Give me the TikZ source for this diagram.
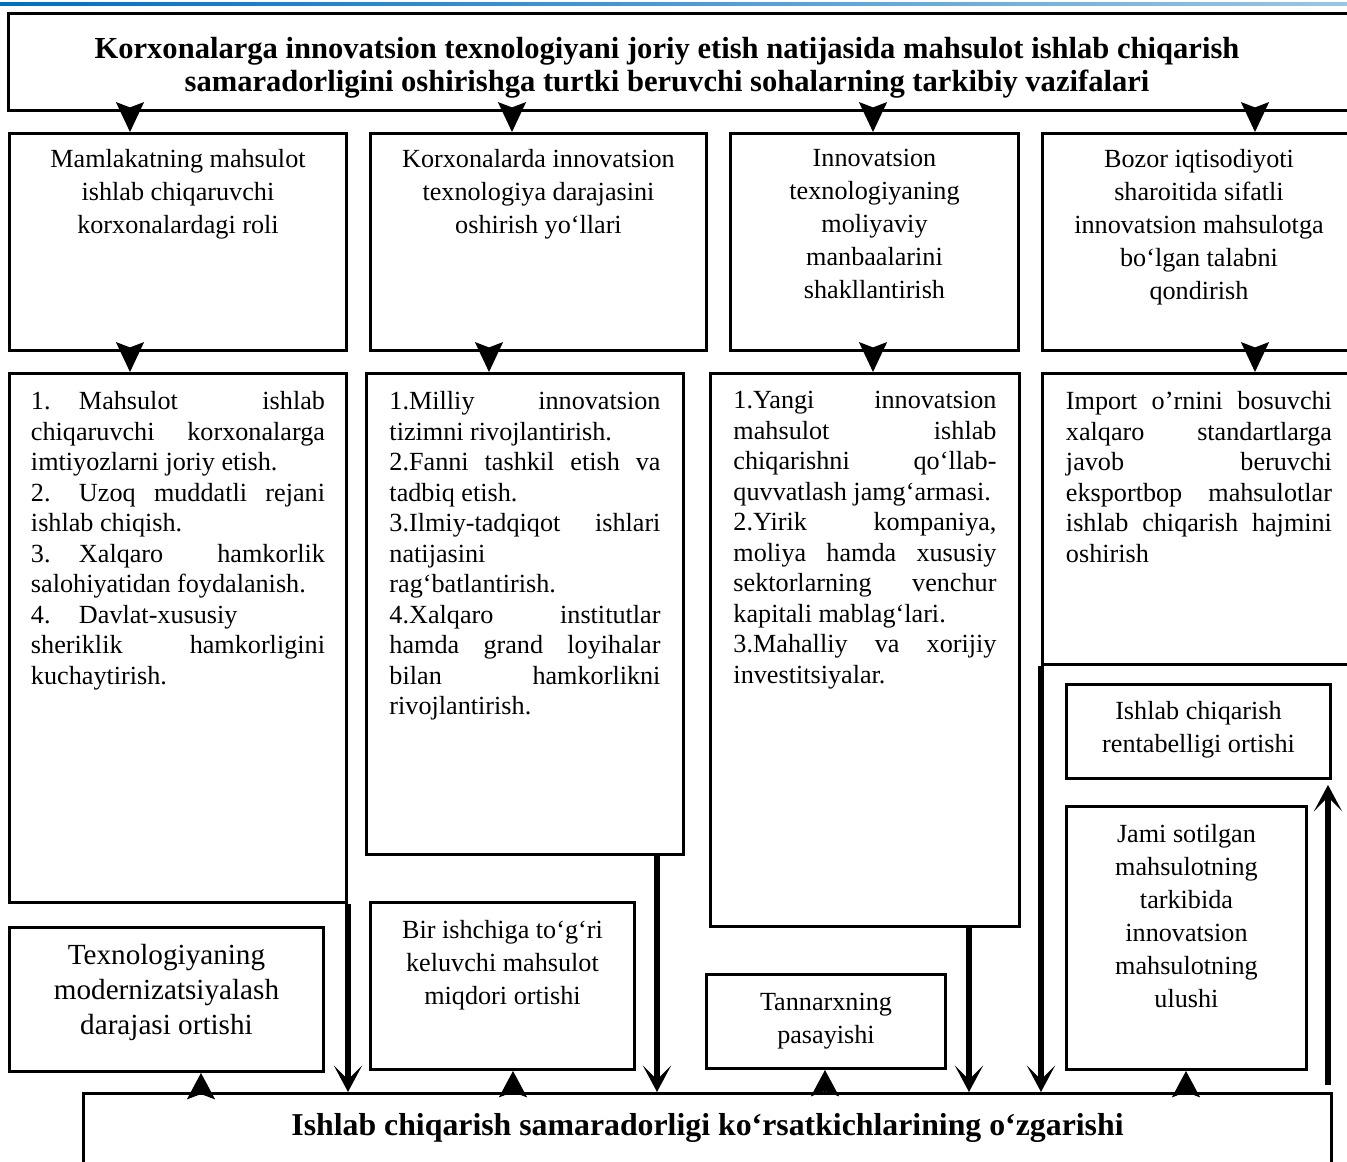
\documentclass[tikz,border=0pt]{standalone}
\usepackage{fontspec}
\setmainfont{Liberation Serif}
\usetikzlibrary{arrows.meta}
\definecolor{hdrblue}{RGB}{0,112,192}
\newlength{\pxd}\setlength{\pxd}{0.02cm}
\newcommand{\topbox}[3]{\parbox[t][#1\pxd][t]{#2\pxd}{#3}}
\newcommand{\numtab}[1]{\makebox[48\pxd][l]{#1}}
\tolerance=10000 \hbadness=10000 \hyphenpenalty=10000
\tikzset{
  panel/.style={draw, line width=1.7pt, inner sep=0pt, anchor=north west},
  headfont/.style={font=\fontsize{17.4}{18.8}\selectfont\bfseries},
  resfont/.style={font=\fontsize{18.1}{20}\selectfont\bfseries},
  cfont/.style={font=\fontsize{14.9}{18.8}\selectfont},
  jfont/.style={font=\fontsize{14.9}{17.35}\selectfont},
  bigfont/.style={font=\fontsize{16.6}{19.9}\selectfont},
  headdown/.style={-{Stealth[length=17pt,width=16pt,inset=3pt]}, line width=0.6pt},
  headup/.style={-{Stealth[length=15pt,width=16pt,inset=3pt]}, line width=0.6pt},
  feed/.style={-{Stealth[length=15pt,width=16pt,inset=8pt]}, line width=3pt},
}
\begin{document}
\begin{tikzpicture}[x=0.02cm, y=-0.02cm]
  \useasboundingbox (0,0) rectangle (1347,1162);
  \clip (0,0) rectangle (1347,1162);
  \shade[left color=hdrblue, right color=hdrblue!40] (0,2.5) rectangle (1347,5.5);

  %% title
  \node[panel, headfont, minimum width=1347\pxd] (title) at (7,12) {\topbox{97}{1347}{\centering\rightskip=30\pxd plus 1fil\vspace*{24\pxd}Korxonalarga innovatsion texnologiyani joriy etish natijasida mahsulot ishlab chiqarish\\ samaradorligini oshirishga turtki beruvchi sohalarning tarkibiy vazifalari}};

  %% second row: directions
  \node[panel, cfont, minimum width=337\pxd] (mA) at (8,132) {\topbox{217}{337}{\centering\vspace*{16\pxd}Mamlakatning mahsulot\\ ishlab chiqaruvchi\\ korxonalardagi roli}};
  \node[panel, cfont, minimum width=336\pxd] (mB) at (369,132) {\topbox{217}{336}{\centering\vspace*{16\pxd}Korxonalarda innovatsion\\ texnologiya darajasini\\ oshirish yo‘llari}};
  \node[panel, cfont, minimum width=288\pxd] (mC) at (729,132) {\topbox{217}{288}{\centering\vspace*{16\pxd}Innovatsion\\ texnologiyaning\\ moliyaviy\\ manbaalarini\\ shakllantirish}};
  \node[panel, cfont, minimum width=313\pxd] (mD) at (1041,132) {\topbox{217}{313}{\centering\vspace*{16\pxd}Bozor iqtisodiyoti\\ sharoitida sifatli\\ innovatsion mahsulotga\\ bo‘lgan talabni\\ qondirish}};

  %% third row: measures
  \node[panel, jfont, minimum width=337\pxd] (lA) at (8,372) {\topbox{529}{294}{\vspace*{18\pxd}\numtab{1.}Mahsulot ishlab\linebreak chiqaruvchi korxonalarga\linebreak imtiyozlarni joriy etish.\par \numtab{2.}Uzoq muddatli rejani\linebreak ishlab chiqish.\par \numtab{3.}Xalqaro hamkorlik\linebreak salohiyatidan foydalanish.\par \numtab{4.}Davlat-xususiy\\ sheriklik hamkorligini\linebreak kuchaytirish.}};
  \node[panel, jfont, minimum width=317\pxd] (lB) at (365,372) {\topbox{481}{271}{\vspace*{18\pxd}1.Milliy innovatsion\linebreak tizimni rivojlantirish.\par 2.Fanni tashkil etish va\linebreak tadbiq etish.\par 3.Ilmiy-tadqiqot ishlari\linebreak natijasini\linebreak rag‘batlantirish.\par 4.Xalqaro institutlar\linebreak hamda grand loyihalar\linebreak bilan hamkorlikni\linebreak rivojlantirish.}};
  \node[panel, jfont, minimum width=309\pxd] (lC) at (709,372) {\topbox{553}{263}{\vspace*{18\pxd}1.Yangi innovatsion\linebreak mahsulot ishlab\linebreak chiqarishni qo‘llab-\linebreak quvvatlash jamg‘armasi.\par 2.Yirik kompaniya,\linebreak moliya hamda xususiy\linebreak sektorlarning venchur\linebreak kapitali mablag‘lari.\par 3.Mahalliy va xorijiy\linebreak investitsiyalar.}};
  \node[panel, jfont, minimum width=313\pxd] (lD) at (1041,372) {\topbox{291}{266}{\vspace*{18\pxd}Import o’rnini bosuvchi\linebreak xalqaro standartlarga\linebreak javob beruvchi\linebreak eksportbop mahsulotlar\linebreak ishlab chiqarish hajmini\linebreak oshirish}};

  %% indicators
  \node[panel, bigfont, minimum width=314\pxd] (tech) at (8,926) {\topbox{144}{314}{\centering\vspace*{17\pxd}Texnologiyaning\\ modernizatsiyalash\\ darajasi ortishi}};
  \node[panel, cfont, minimum width=264\pxd] (worker) at (369,901) {\topbox{167}{264}{\centering\vspace*{18\pxd}Bir ishchiga to‘g‘ri\\ keluvchi mahsulot\\ miqdori ortishi}};
  \node[panel, cfont, minimum width=239\pxd] (cost) at (705,973) {\topbox{94}{239}{\centering\vspace*{19\pxd}Tannarxning\\ pasayishi}};
  \node[panel, cfont, minimum width=264\pxd] (profit) at (1065,683) {\topbox{94}{264}{\centering\vspace*{17\pxd}Ishlab chiqarish\\ rentabelligi ortishi}};
  \node[panel, cfont, minimum width=240\pxd] (share) at (1065,805) {\topbox{263}{240}{\centering\vspace*{18\pxd}Jami sotilgan\\ mahsulotning\\ tarkibida\\ innovatsion\\ mahsulotning\\ ulushi}};
  \node[panel, resfont, minimum width=1248\pxd] (result) at (82,1092) {\topbox{120}{1248}{\centering\vspace*{20\pxd}Ishlab chiqarish samaradorligi ko‘rsatkichlarining o‘zgarishi}};

  %% arrows
  \foreach \dn/\col in {mA/130, mB/512, mC/873, mD/1255}
    \draw[headdown] (title.south -| \col,0) -- (\dn.north -| \col,0);
  \foreach \up/\dn/\col in {mA/lA/130, mB/lB/489, mC/lC/873, mD/lD/1255}
    \draw[headdown] (\up.south -| \col,0) -- (\dn.north -| \col,0);

  \draw[feed] (lA.south east) -- (lA.south east |- result.north);
  \draw[feed] (lB.south -| 657,0) -- (result.north -| 657,0);
  \draw[feed] (lC.south -| 969,0) -- (result.north -| 969,0);
  \draw[feed] (lD.south west) -- (lD.south west |- result.north);

  \foreach \trg/\col in {tech/201, worker/513, cost/825, share/1186}
    \draw[headup] (result.north -| \col,0) -- (\trg.south -| \col,0);

  \coordinate (rise) at (1328,1085);
  \draw[feed, shorten >=2.8pt] (rise) -- (rise |- profit.south);
\end{tikzpicture}
\end{document}
